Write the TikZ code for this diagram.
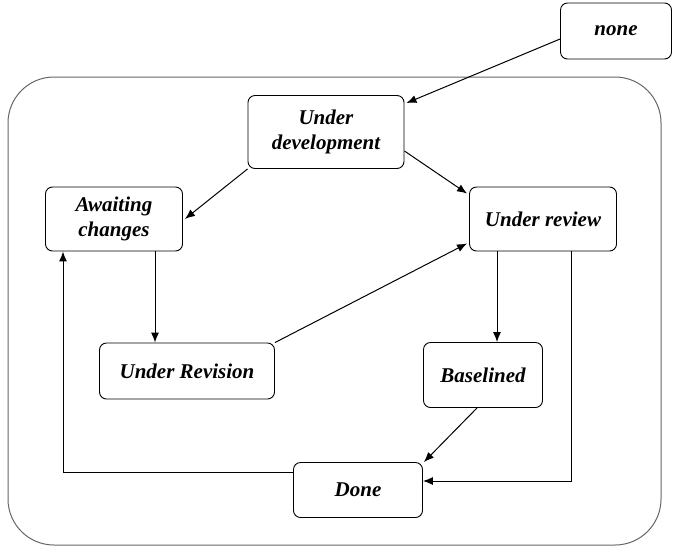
\documentclass[tikz,border=0pt]{standalone}
\usepackage{fontspec}
\setmainfont{Liberation Serif}
\usepackage{tikz}
\usetikzlibrary{positioning, arrows.meta}
\tikzstyle{state} = [rectangle, rounded corners=7pt, align=center, draw=black, line width=0.9pt, inner sep=2pt, font=\fontsize{21}{25}\selectfont\bfseries\itshape]
\tikzstyle{arrow} = [line width=1pt, -{Latex[length=10pt,width=8pt]}]
\tikzstyle{link} = [line width=1pt]

\begin{document}
\begin{tikzpicture}[x=1pt, y=-1pt]
			\useasboundingbox (0,0) rectangle (676,555);
			% Frame
			\draw [gray!80!black, line width=1pt, rounded corners=46pt] (8,77) rectangle (661,545);
			
			% Nodes
			\node (none) [state, minimum width=111pt, minimum height=56pt] at (616,31) {none};
			\node (develop) [state, minimum width=156pt, minimum height=73pt] at (326,132) {Under\\development};
			\node (awaiting) [state, minimum width=137pt, minimum height=64pt] at (114,219) {Awaiting\\changes};
			\node (review) [state, minimum width=147pt, minimum height=64pt] at (543,219) {Under review};
			\node (revision) [state, minimum width=175pt, minimum height=56pt] at (187,371) {Under Revision};
			\node (baselined) [state, minimum width=119pt, minimum height=65pt] at (483,375) {Baselined};
			\node (done) [state, minimum width=129pt, minimum height=55pt] at (358,490) {Done};
			
			% Arrows
			\draw [arrow] ([yshift=-8pt]none.west) -- ([yshift=-8pt, xshift=2pt]develop.north east);
			\draw [arrow] (develop.south west) -- ([xshift=2pt]awaiting.east);
			\draw [arrow] ([yshift=-19pt]develop.east) -- ([yshift=-7pt, xshift=-2pt]review.north west);
			\draw [arrow] (revision.north east) -- ([yshift=8pt, xshift=-2pt]review.south west);
			\draw [arrow] ([xshift=41pt]awaiting.south) -- ([xshift=41pt]awaiting.south |- revision.north);
			\draw [arrow] ([xshift=-46pt]review.south) -- ([xshift=-46pt]review.south |- baselined.north);
			\draw [arrow] ([xshift=-6pt]baselined.south) -- ([xshift=1pt]done.north east);
			\draw [arrow] ([yshift=18pt]done.west) -| ([xshift=-51pt]awaiting.south);
			\draw [arrow] ([xshift=28pt]review.south) |- ([yshift=9pt]done.east);
\end{tikzpicture}
\end{document}
